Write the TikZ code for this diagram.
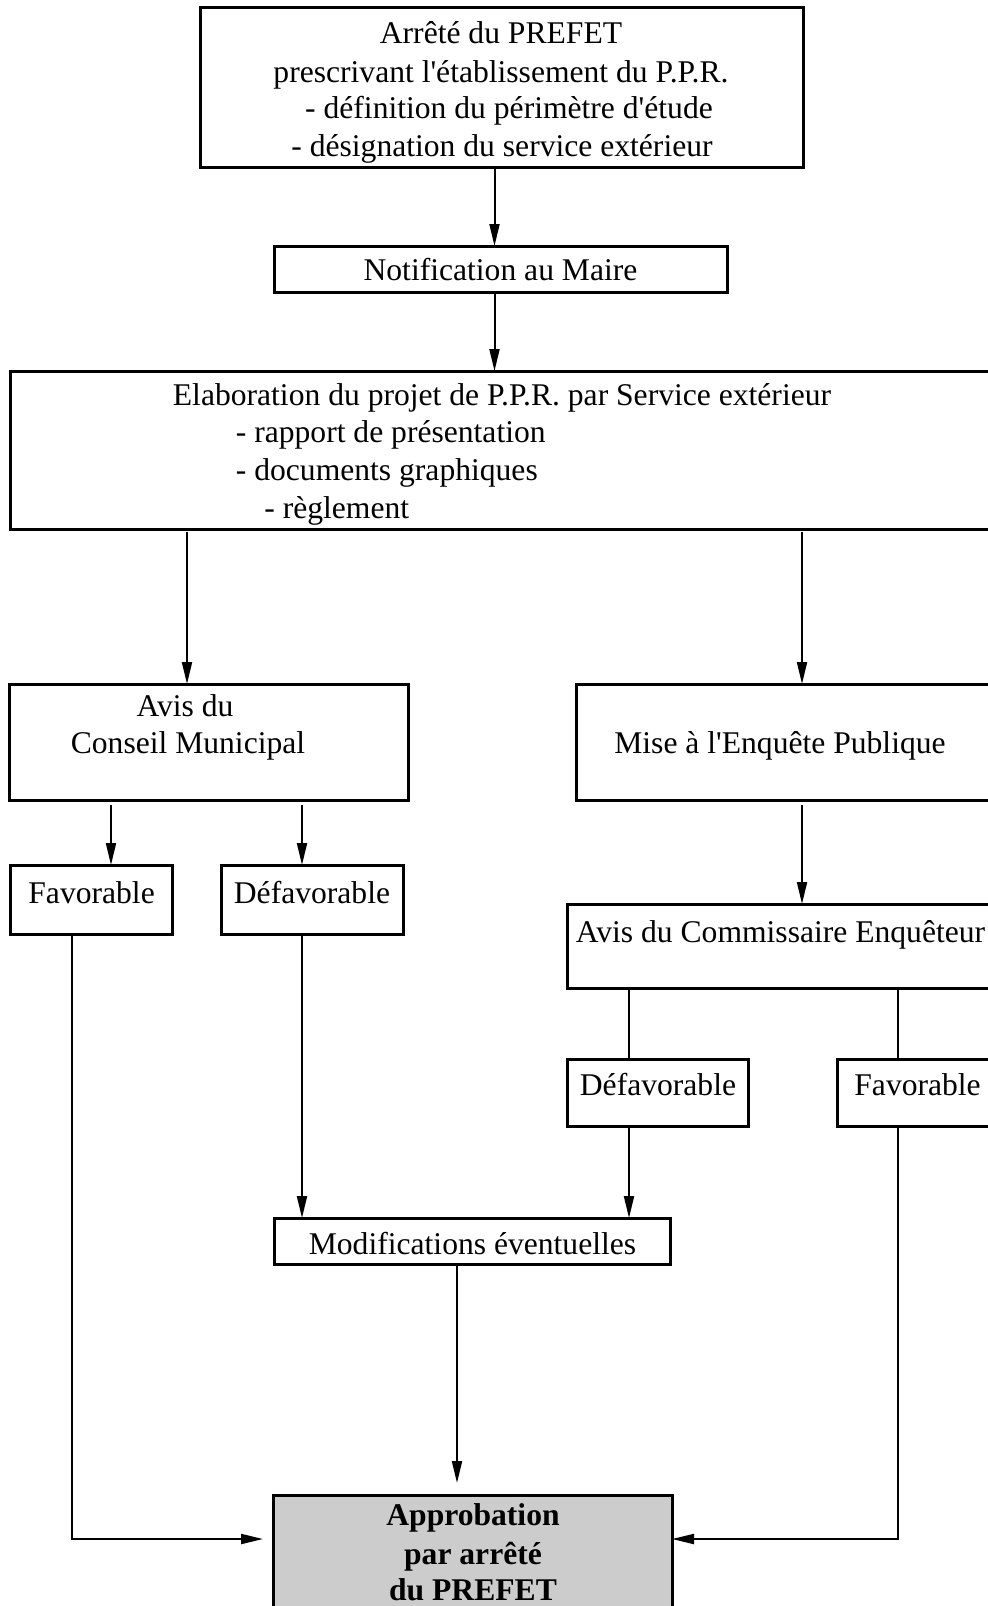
\documentclass[tikz,border=0pt]{standalone}
\usepackage{fontspec}
\setmainfont{Liberation Serif}
\newfontfamily\plainserif{Liberation Serif}
\usetikzlibrary{arrows.meta}
\definecolor{appgray}{gray}{0.8}
\begin{document}
\begin{tikzpicture}[x=0.5pt,y=-0.5pt,
  box/.style={draw,line width=1.5pt,inner sep=0pt,outer sep=0pt},
  txt/.style={inner sep=0pt,anchor=base,font=\plainserif\fontsize{15.8}{19}\selectfont},
  txtw/.style={txt,anchor=base west},
  btxt/.style={txt,font=\plainserif\fontsize{15.8}{19}\selectfont\bfseries},
  conn/.style={line width=1pt},
  arr/.style={conn,-{Triangle[length=11pt,width=5pt]}}]
\useasboundingbox (0,0) rectangle (987,1606);
\fill[white] (0,0) rectangle (987,1606);
% boxes
\node[box,minimum width=301.5pt,minimum height=80pt] (b1) at (501.5,87) {};
\node[box,minimum width=226.5pt,minimum height=23pt] (b2) at (500.5,269) {};
\node[box,minimum width=492.5pt,minimum height=79pt] (b3) at (502.5,450) {};
\node[box,minimum width=199.5pt,minimum height=58pt] (cm) at (208.5,742) {};
\node[box,minimum width=209.5pt,minimum height=58pt] (ep) at (785.5,742) {};
\node[box,minimum width=81pt,minimum height=34.5pt] (fav1) at (91,899.5) {};
\node[box,minimum width=91pt,minimum height=34.5pt] (def1) at (312,899.5) {};
\node[box,minimum width=214pt,minimum height=42pt] (ce) at (781,946) {};
\node[box,minimum width=90.5pt,minimum height=33.5pt] (def2) at (657.5,1092.5) {};
\node[box,minimum width=79pt,minimum height=33.5pt] (fav2) at (916,1092.5) {};
\node[box,minimum width=198pt,minimum height=23pt] (mod) at (472,1241) {};
\node[box,fill=appgray,minimum width=199.5pt,minimum height=65pt] (app) at (472.5,1560) {};
% texts
\node[txt] (t1a) at (501,43) {Arrêté du PREFET};
\node[txt] (t1b) at (501,82) {prescrivant l'établissement du P.P.R.};
\node[txt] (t1c) at (509,118.5) {- définition du périmètre d'étude};
\node[txt] (t1d) at (502,156.4) {- désignation du service extérieur};
\node[txt] (t2) at (500.5,280) {Notification au Maire};
\node[txt] (t3a) at (502,405) {Elaboration du projet de P.P.R. par Service extérieur};
\node[txtw] (t3b) at (235.5,442) {- rapport de présentation};
\node[txtw] (t3c) at (235.5,480) {- documents graphiques};
\node[txtw] (t3d) at (264,518) {- règlement};
\node[txt] (tcm1) at (185,716.5) {Avis du};
\node[txt] (tcm2) at (188,753) {Conseil Municipal};
\node[txt] (tep) at (780,753) {Mise à l'Enquête Publique};
\node[txt] (tf1) at (91.6,903) {Favorable};
\node[txt] (td1) at (312,903) {Défavorable};
\node[txtw] (tce) at (575.5,942) {Avis du Commissaire Enquêteur};
\node[txt] (td2) at (658,1095) {Défavorable};
\node[txtw] (tf2) at (854,1095) {Favorable};
\node[txt] (tmod) at (472.5,1254) {Modifications éventuelles};
\node[btxt] (ta1) at (473,1525.4) {Approbation};
\node[btxt] (ta2) at (473,1564.3) {par arrêté};
\node[btxt] (ta3) at (473,1600.2) {du PREFET};
% connectors
\draw[arr] (b1.south -| 494.5,0) -- (b2.north -| 494.5,0);
\draw[arr] (b2.south -| 494.5,0) -- (b3.north -| 494.5,0);
\draw[arr,shorten <=1.5pt] (b3.south -| 187,0) -- (cm.north -| 187,0);
\draw[arr,shorten <=1.5pt] (b3.south -| 802,0) -- (ep.north -| 802,0);
\draw[arr,shorten <=2.5pt] (cm.south -| 111,0) -- (fav1.north -| 111,0);
\draw[arr,shorten <=2.5pt] (cm.south -| 302,0) -- (def1.north -| 302,0);
\draw[arr,shorten <=2.5pt] (ep.south -| 802,0) -- (ce.north -| 802,0);
\draw[conn] (ce.south -| 629,0) -- (def2.north -| 629,0);
\draw[conn] (ce.south -| 898,0) -- (fav2.north -| 898,0);
\draw[arr] (def1.south -| 302,0) -- (mod.north -| 302,0);
\draw[arr] (def2.south -| 629,0) -- (mod.north -| 629,0);
\draw[arr,shorten >=6pt] (mod.south -| 457,0) -- (app.north -| 457,0);
\draw[arr,shorten >=5pt] (fav1.south -| 72,0) |- (app.west |- 0,1539);
\draw[arr] (fav2.south -| 898,0) |- (app.east |- 0,1539);
\end{tikzpicture}
\end{document}
